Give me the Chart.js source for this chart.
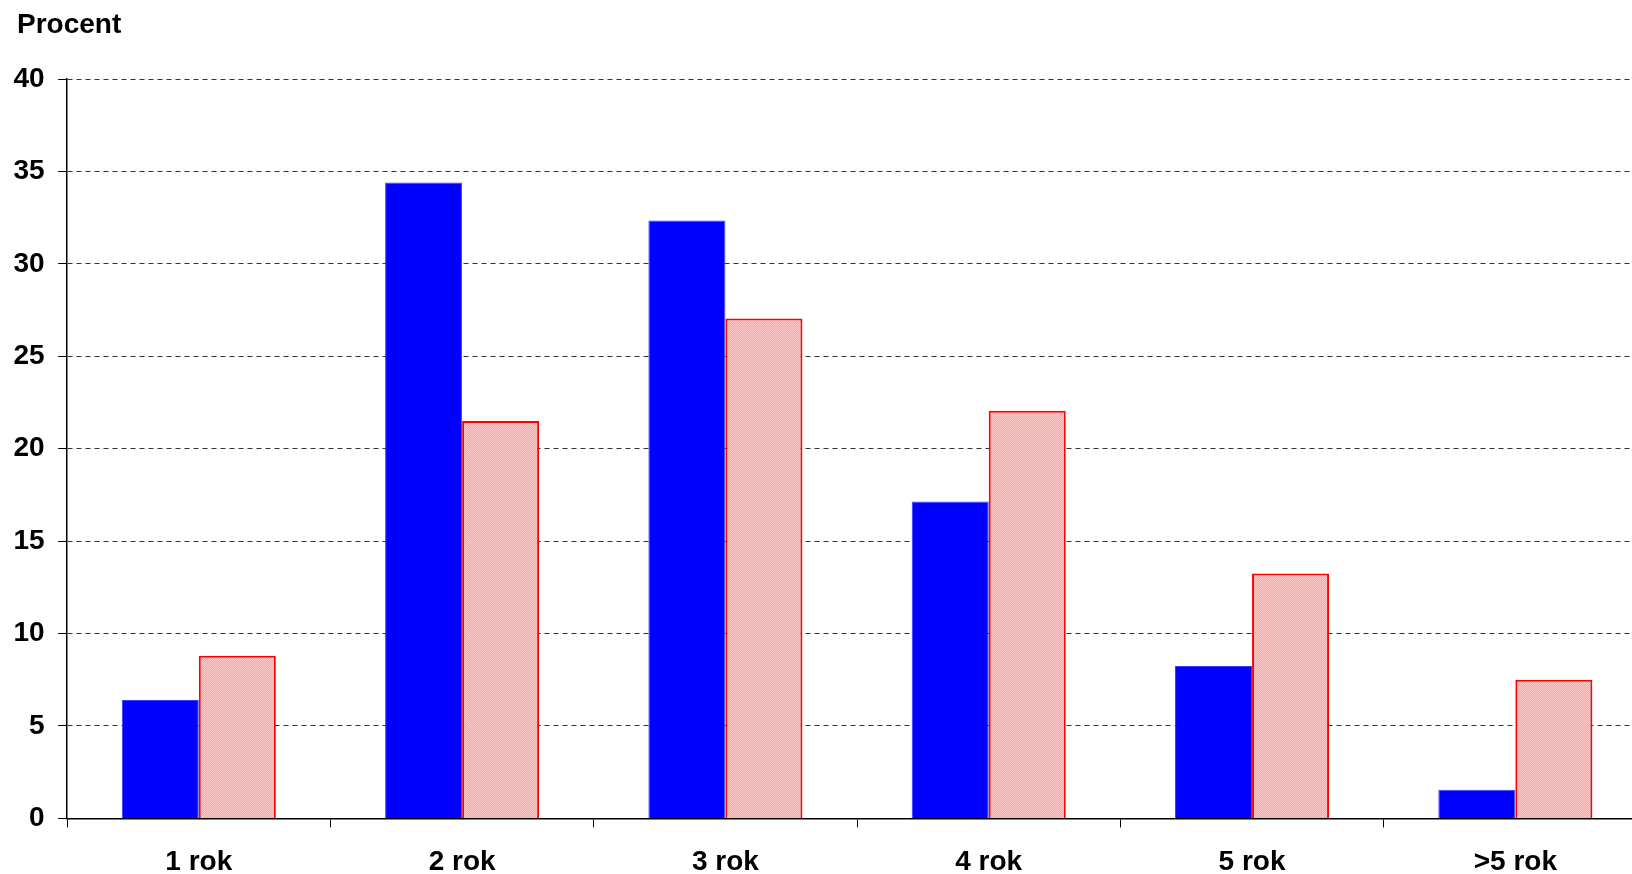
<!DOCTYPE html>
<html>
<head>
<meta charset="utf-8">
<script src="https://cdn.jsdelivr.net/npm/chart.js@4/dist/chart.umd.min.js"></script>
<style>
  html, body { margin: 0; padding: 0; background: #fff; overflow: hidden; }
  #wrap { width: 1632px; height: 874px; overflow: hidden; }
  canvas { display: block; }
</style>
</head>
<body>
<div id="wrap"><canvas id="c" width="1660" height="897"></canvas></div>
<script>
// Rozkład (w procentach) według liczby lat
const categories = ['1 rok', '2 rok', '3 rok', '4 rok', '5 rok', '>5 rok'];
const seriesA = [6.4, 34.4, 32.35, 17.15, 8.25, 1.55];
const seriesB = [8.8, 21.5, 27.05, 22.05, 13.25, 7.5];
const yTicks = [0, 5, 10, 15, 20, 25, 30, 35, 40];

const FONT = '"Liberation Sans", Arial, Helvetica, sans-serif';

// Light pink dotted fill for the second series
function dottedPink() {
  const p = document.createElement('canvas');
  p.width = 2; p.height = 2;
  const g = p.getContext('2d');
  g.fillStyle = '#ffa2a2'; g.fillRect(0, 0, 2, 2);
  g.fillStyle = '#ffc8c8'; g.fillRect(0, 0, 1, 1); g.fillRect(1, 1, 1, 1);
  return g.createPattern(p, 'repeat');
}

// Axis caption above the value axis
const captionPlugin = {
  id: 'caption',
  afterDraw(chart) {
    const ctx = chart.ctx;
    ctx.save();
    ctx.font = 'bold 28px ' + FONT;
    ctx.fillStyle = '#000';
    ctx.textAlign = 'left';
    ctx.textBaseline = 'alphabetic';
    ctx.fillText('Procent', 17, 33);
    ctx.restore();
  }
};

const ctx = document.getElementById('c').getContext('2d');
new Chart(ctx, {
  type: 'bar',
  data: {
    labels: categories,
    datasets: [
      {
        data: seriesA,
        backgroundColor: '#0000ff',
        borderColor: '#3b3bff',
        borderWidth: 1,
        categoryPercentage: 0.585,
        barPercentage: 1.0
      },
      {
        data: seriesB,
        backgroundColor: dottedPink(),
        borderColor: '#ff0000',
        borderWidth: 2,
        categoryPercentage: 0.585,
        barPercentage: 1.0
      }
    ]
  },
  options: {
    responsive: false,
    animation: false,
    devicePixelRatio: 1,
    layout: { padding: { left: 0, right: 13, top: 79, bottom: 0 } },
    plugins: {
      legend: { display: false },
      tooltip: { enabled: false },
      title: { display: false }
    },
    scales: {
      x: {
        offset: true,
        grid: {
          offset: true,
          drawOnChartArea: false,
          drawTicks: true,
          tickLength: 9,
          tickColor: '#000',
          tickWidth: 1
        },
        border: { display: true, color: '#000', width: 1.5 },
        ticks: {
          color: '#000',
          padding: 18,
          maxRotation: 0,
          font: { family: FONT, size: 28, weight: 'bold' }
        }
      },
      y: {
        min: 0,
        max: 40,
        afterBuildTicks(scale) { scale.ticks = yTicks.map(v => ({ value: v })); },
        grid: {
          color: '#333',
          lineWidth: 1,
          drawTicks: true,
          tickLength: 9,
          tickColor: '#000',
          tickBorderDash: []
        },
        border: { display: true, color: '#000', width: 1.5, dash: [5, 4] },
        ticks: {
          color: '#000',
          padding: 13.5,
          font: { family: FONT, size: 28, weight: 'bold' }
        }
      }
    }
  },
  plugins: [captionPlugin]
});
</script>
</body>
</html>
